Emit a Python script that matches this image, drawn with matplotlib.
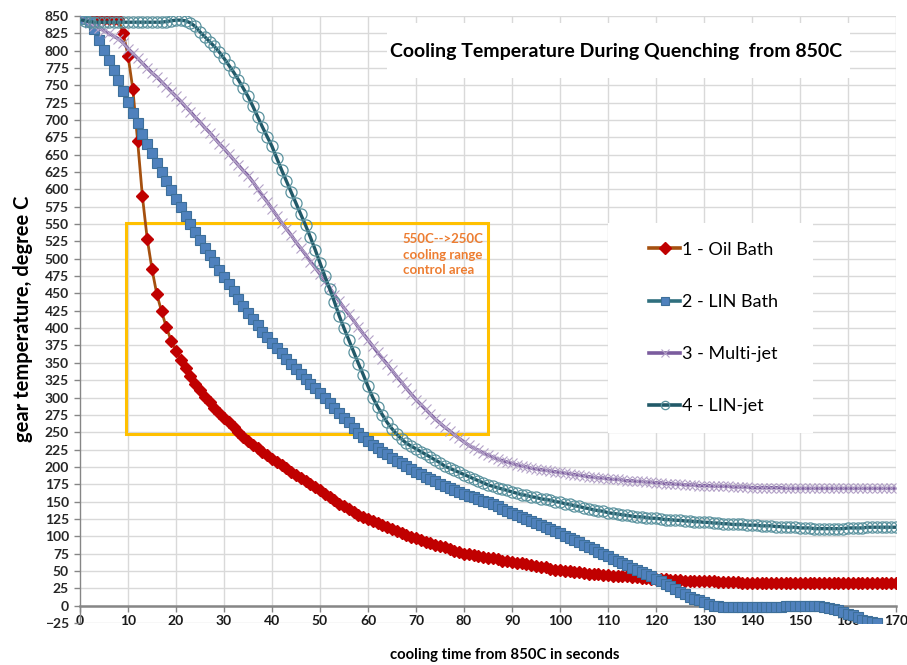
import matplotlib.pyplot as plt
from matplotlib.patches import Rectangle
import numpy as np

plt.rcParams['font.family'] = ['Lato', 'DejaVu Sans']

# cooling time in seconds
time_s = list(range(0, 171))

oil_bath = [
    848, 848, 847, 847, 847, 846, 846, 846, 845, 825,
    793, 745, 670, 590, 529, 485, 449, 424, 401, 382,
    367, 354, 342, 331, 320, 311, 301, 293, 285, 278,
    271, 264, 257, 250, 243, 237, 232, 227, 222, 217,
    212, 207, 203, 198, 193, 189, 184, 180, 175, 171,
    166, 161, 156, 152, 147, 143, 139, 135, 131, 128,
    125, 122, 119, 116, 113, 110, 107, 105, 102, 99,
    97, 94, 92, 90, 88, 86, 84, 81, 79, 77,
    75, 74, 73, 71, 70, 69, 68, 67, 65, 64,
    63, 62, 61, 60, 59, 57, 56, 55, 53, 52,
    51, 50, 50, 49, 48, 47, 46, 46, 45, 44,
    44, 43, 43, 42, 42, 41, 41, 40, 40, 39,
    39, 38, 38, 37, 37, 37, 36, 36, 36, 35,
    35, 35, 35, 34, 34, 34, 34, 34, 33, 33,
    33, 33, 33, 33, 33, 33, 33, 33, 33, 32,
    32, 32, 32, 32, 32, 32, 32, 32, 32, 32,
    32, 32, 32, 32, 32, 32, 32, 32, 32, 32,
    32,
]

lin_bath = [
    848, 846, 841, 831, 816, 801, 787, 772, 757, 742,
    726, 710, 695, 680, 665, 652, 638, 625, 612, 599,
    586, 574, 562, 550, 539, 527, 516, 505, 495, 484,
    474, 464, 453, 442, 432, 422, 413, 404, 395, 387,
    379, 371, 364, 356, 349, 341, 334, 327, 320, 313,
    306, 299, 292, 285, 278, 271, 264, 256, 249, 243,
    237, 232, 227, 222, 218, 213, 209, 205, 201, 197,
    193, 190, 186, 183, 180, 176, 173, 170, 167, 164,
    161, 158, 156, 153, 151, 149, 146, 143, 140, 137,
    134, 131, 128, 125, 122, 119, 116, 113, 110, 107,
    104, 101, 98, 95, 92, 88, 85, 81, 78, 74,
    71, 67, 64, 61, 58, 54, 51, 48, 45, 42,
    38, 35, 31, 28, 24, 20, 17, 13, 10, 8,
    5, 2, 0, -1, -2, -2, -2, -2, -2, -2,
    -2, -2, -2, -2, -2, -2, -2, -1, 0, 0,
    0, 0, 0, 0, -1, -2, -4, -5, -7, -9,
    -12, -14, -17, -20, -22, -24, -25,
]

multi_jet = [
    846, 843, 840, 836, 832, 829, 825, 821, 817, 811,
    803, 796, 789, 782, 775, 768, 762, 755, 748, 741,
    734, 727, 719, 712, 704, 697, 689, 682, 674, 666,
    659, 651, 643, 635, 627, 620, 611, 601, 591, 582,
    572, 562, 552, 543, 534, 524, 515, 506, 496, 487,
    478, 468, 458, 448, 439, 429, 420, 411, 401, 392,
    383, 374, 365, 356, 348, 339, 330, 322, 313, 305,
    297, 290, 283, 276, 269, 263, 257, 252, 246, 241,
    236, 231, 227, 224, 220, 217, 214, 211, 209, 207,
    205, 203, 201, 200, 198, 197, 196, 195, 194, 193,
    192, 191, 190, 189, 188, 187, 186, 185, 184, 184,
    183, 182, 182, 181, 180, 180, 179, 179, 178, 178,
    177, 177, 176, 176, 175, 175, 174, 174, 174, 173,
    173, 173, 172, 172, 172, 172, 171, 171, 171, 171,
    170, 170, 170, 170, 170, 170, 170, 169, 169, 169,
    169, 169, 169, 169, 169, 169, 169, 169, 169, 169,
    169, 169, 169, 169, 169, 169, 169, 169, 169, 169,
    169,
]

lin_jet = [
    845, 843, 842, 841, 841, 841, 841, 841, 841, 841,
    841, 841, 841, 841, 841, 841, 841, 841, 842, 843,
    844, 844, 843, 840, 835, 827, 820, 813, 806, 798,
    789, 779, 769, 758, 746, 734, 720, 705, 690, 676,
    662, 645, 628, 612, 596, 580, 564, 548, 531, 513,
    494, 475, 457, 438, 418, 400, 383, 366, 349, 333,
    316, 300, 287, 275, 264, 255, 247, 240, 234, 230,
    226, 222, 218, 214, 210, 206, 201, 198, 195, 192,
    189, 186, 183, 180, 177, 174, 172, 170, 168, 166,
    164, 162, 160, 159, 157, 156, 154, 153, 152, 150,
    149, 147, 146, 144, 143, 141, 140, 138, 137, 136,
    134, 133, 132, 131, 130, 129, 128, 128, 127, 126,
    126, 125, 124, 124, 123, 123, 122, 122, 121, 121,
    120, 120, 119, 119, 118, 118, 117, 117, 117, 116,
    116, 116, 115, 115, 115, 114, 114, 113, 113, 113,
    112, 112, 112, 111, 111, 111, 111, 111, 111, 111,
    112, 112, 112, 112, 113, 113, 113, 113, 113, 113,
    113,
]

labels = ['1 - Oil Bath', '2 - LIN Bath', '3 - Multi-jet', '4 - LIN-jet']
x_ticks = list(range(0, 171, 10))
y_ticks = list(range(-25, 851, 25))

fig = plt.figure(figsize=(9.07, 6.65), dpi=100)
ax = fig.add_axes([0.0882, 0.0632, 0.8997, 0.9128])

grid_c = '#d9d9d9'
ax.set_xlim(0, 170)
ax.set_ylim(-25, 850)
for y in y_ticks:
    ax.axhline(y, color=grid_c, lw=1, zorder=0.5)
ax.vlines(x_ticks[1:], 0, 850, color=grid_c, lw=1, zorder=0.5)

# white boxes behind title and legend
ax.add_patch(Rectangle((0.376, 0.898), 0.568, 0.09, transform=ax.transAxes,
                       facecolor='white', edgecolor='none', zorder=1))
ax.add_patch(Rectangle((0.647, 0.313), 0.251, 0.346, transform=ax.transAxes,
                       facecolor='white', edgecolor='none', zorder=1))

# control area box
ax.add_patch(Rectangle((9.5, 248), 75.5, 303, facecolor='none',
                       edgecolor='#ffc000', lw=2.2, zorder=1.5))
ax.text(67.2, 537, '550C-->250C\ncooling range\ncontrol area', color='#ed7d31',
        fontsize=9.5, fontweight='bold', va='top', ha='left', linespacing=1.35, zorder=1.6)

l1, = ax.plot(time_s, oil_bath, color='#a5500f', lw=2, marker='D', ms=6.3,
              mfc='#c00000', mec='#c00000', zorder=2, label=labels[0])
l2, = ax.plot(time_s[:len(lin_bath)], lin_bath, color='#2f6f7e', lw=2, marker='s', ms=7.5,
              mfc='#4f81bd', mec='#3d6f9a', mew=0.8, zorder=3, label=labels[1])
l3, = ax.plot(time_s, multi_jet, color='#7b5c9e', lw=2.4, marker='x', ms=6.5,
              mec='#b3a2c7', mew=0.8, zorder=4, label=labels[2])
l4, = ax.plot(time_s, lin_jet, color='#215968', lw=2.4, marker='o', ms=8,
              mfc='none', mec='#5a929e', mew=0.9, zorder=5, label=labels[3])

leg = ax.legend(handles=[l1, l2, l3, l4], loc='upper left', bbox_to_anchor=(0.697, 0.628),
                frameon=False, fontsize=13, handlelength=1.75, handletextpad=0.1,
                labelspacing=2.0, borderpad=0, borderaxespad=0)
for line in leg.get_lines():
    line.set_markersize(6)
    line.set_linewidth(2.6)

fig.text(0.679, 0.922, 'Cooling Temperature During Quenching  from 850C',
         ha='center', va='center', fontsize=14, fontweight='bold', color='black')

ax.spines['top'].set_visible(False)
ax.spines['right'].set_visible(False)
ax.spines['bottom'].set_position(('data', 0))
ax.spines['bottom'].set_color('#868686')
ax.spines['bottom'].set_linewidth(1.8)
ax.spines['left'].set_color('#868686')
ax.spines['left'].set_linewidth(1)

ax.set_xticks(x_ticks)
ax.set_yticks(y_ticks)
ax.tick_params(axis='x', direction='out', length=4, width=1, color='#868686',
               labelsize=10, pad=2.5, labelcolor='#1a1a1a')
ax.tick_params(axis='y', direction='out', length=4, width=1, color='#868686',
               labelsize=10, pad=4, labelcolor='#262626')
for lab in ax.get_xticklabels() + ax.get_yticklabels():
    lab.set_fontweight('bold')

fig.text(0.025, 0.52, 'gear temperature, degree C', rotation=90, ha='center', va='center',
         fontsize=14.5, fontweight='bold')
fig.text(0.557, 0.015, 'cooling time from 850C in seconds', ha='center', va='center',
         fontsize=10.7, fontweight='bold')

fig.savefig('out.png', dpi=100)
